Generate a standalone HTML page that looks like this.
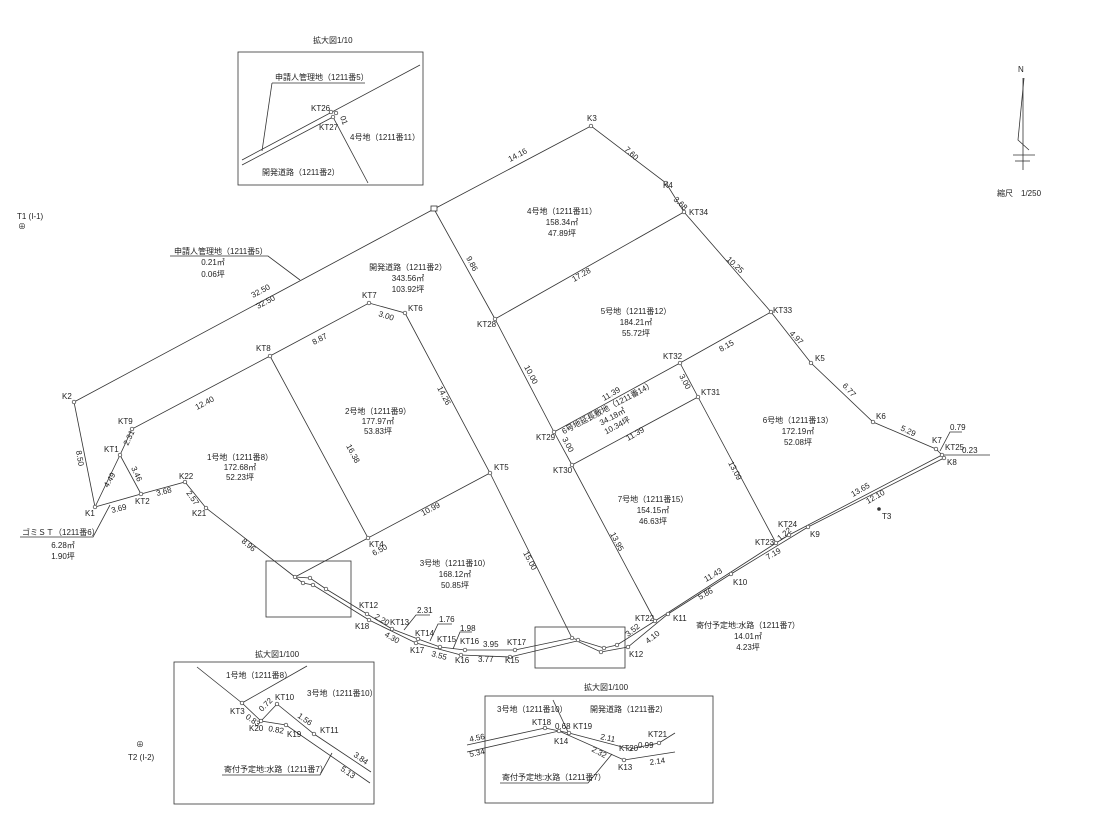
<!DOCTYPE html>
<html><head><meta charset="utf-8"><style>
html,body{margin:0;padding:0;background:#fff;}
svg{display:block;font-family:"Liberation Sans","Noto Sans CJK JP",sans-serif;}
text{font-size:8px;fill:#222;}
.c{text-anchor:middle;}
</style></head><body>
<svg width="1108" height="826" viewBox="0 0 1108 826" xmlns="http://www.w3.org/2000/svg">
<g stroke="#333" stroke-width="0.8" fill="none">
<!-- outer boundary -->
<polyline points="74,402 434,209 591,126 666,183 684,212 771,312 811,363 873,422 936,449 942,455"/>
<polyline points="74,402 95,507 120,455 132,429 270,356 369,303 405,313 490,473 572,638"/>
<line x1="120" y1="455" x2="141" y2="494"/>
<polyline points="95,507 141,494 185,482 206,508 295,577"/>
<polyline points="270,356 368,538 490,473"/>
<line x1="368" y1="538" x2="295" y2="577"/>
<polyline points="434,209 495,319 554,432 572,465 655,621"/>
<line x1="495" y1="319" x2="684" y2="212"/>
<polyline points="771,312 680,363 554,432"/>
<polyline points="680,363 698,397 776,543"/>
<line x1="698" y1="397" x2="572" y2="465"/>
<!-- channel -->
<polyline points="295,577 310,578 326,589 367,614 392,629 418,639 440,647 465,650 515,650 572,638 578,640 604,648 617,645 655,621 776,543 789,535 942,455"/>
<polyline points="295,577 303,583 313,585 369,620 416,643 461,655 510,657 577,641 601,652 628,647 668,614 731,574 808,527 944,458"/>
<!-- leaders -->
<polyline points="170,256 268,256 300,280"/>
<polyline points="20,537 93,537 110,505"/>
<polyline points="940,451 950,432 962,432"/>
<line x1="944" y1="455" x2="990" y2="455"/>
<polyline points="430,615 416,615 404,630"/>
<polyline points="452,624 438,624 430,641"/>
<polyline points="472,632 460,632 453,649"/>
<!-- inset boxes -->
<rect x="238" y="52" width="185" height="133"/>
<rect x="266" y="561" width="85" height="56"/>
<rect x="535" y="627" width="90" height="41"/>
<rect x="174" y="662" width="200" height="142"/>
<rect x="485" y="696" width="228" height="107"/>
<!-- top inset -->
<line x1="242" y1="160" x2="420" y2="65"/>
<line x1="242" y1="165" x2="333" y2="117"/>
<line x1="333" y1="117" x2="368" y2="183"/>
<polyline points="272,83 365,83"/>
<line x1="272" y1="83" x2="262" y2="151"/>
<!-- bottom-left inset -->
<polyline points="197,667 242,703 261,721 286,725 370,783"/>
<line x1="242" y1="703" x2="307" y2="666"/>
<polyline points="261,721 277,704 314,734 371,772"/>
<polyline points="222,775 320,775 332,753"/>
<!-- bottom-right inset -->
<polyline points="467,745 545,728 569,733 630,749 659,743 675,733"/>
<polyline points="467,752 559,731 624,760 675,752"/>
<line x1="553" y1="700" x2="568" y2="732"/>
<polyline points="500,783 588,783 612,754"/>
<!-- north -->
<line x1="1023" y1="78" x2="1023" y2="170"/>
<polyline points="1024,78 1018,140 1029,150"/>
<line x1="1013" y1="155" x2="1035" y2="155"/>
<line x1="1015" y1="161" x2="1030" y2="161"/>
</g>
<rect x="431" y="206" width="6" height="5" fill="#fff" stroke="#333" stroke-width="0.8"/>
<g fill="#fff" stroke="#333" stroke-width="0.7">
<circle cx="591" cy="126" r="1.8"/><circle cx="666" cy="183" r="1.8"/><circle cx="684" cy="212" r="1.8"/><circle cx="771" cy="312" r="1.8"/><circle cx="811" cy="363" r="1.8"/><circle cx="873" cy="422" r="1.8"/><circle cx="936" cy="449" r="1.8"/><circle cx="942" cy="455" r="1.8"/><circle cx="944" cy="458" r="1.8"/>
<circle cx="74" cy="402" r="1.8"/><circle cx="95" cy="507" r="1.8"/><circle cx="120" cy="455" r="1.8"/><circle cx="132" cy="429" r="1.8"/><circle cx="141" cy="494" r="1.8"/><circle cx="185" cy="482" r="1.8"/><circle cx="206" cy="508" r="1.8"/><circle cx="270" cy="356" r="1.8"/><circle cx="369" cy="303" r="1.8"/><circle cx="405" cy="313" r="1.8"/><circle cx="490" cy="473" r="1.8"/><circle cx="368" cy="538" r="1.8"/>
<circle cx="495" cy="319" r="1.8"/><circle cx="554" cy="432" r="1.8"/><circle cx="572" cy="465" r="1.8"/><circle cx="680" cy="363" r="1.8"/><circle cx="698" cy="397" r="1.8"/><circle cx="776" cy="543" r="1.8"/><circle cx="789" cy="535" r="1.8"/><circle cx="808" cy="527" r="1.8"/><circle cx="731" cy="574" r="1.8"/><circle cx="668" cy="614" r="1.8"/><circle cx="655" cy="621" r="1.8"/><circle cx="628" cy="647" r="1.8"/>
<circle cx="295" cy="577" r="1.8"/><circle cx="303" cy="583" r="1.8"/><circle cx="310" cy="578" r="1.8"/><circle cx="313" cy="585" r="1.8"/><circle cx="326" cy="589" r="1.8"/><circle cx="367" cy="614" r="1.8"/><circle cx="369" cy="620" r="1.8"/><circle cx="392" cy="629" r="1.8"/><circle cx="418" cy="639" r="1.8"/><circle cx="416" cy="643" r="1.8"/><circle cx="440" cy="647" r="1.8"/><circle cx="461" cy="655" r="1.8"/><circle cx="465" cy="650" r="1.8"/><circle cx="515" cy="650" r="1.8"/><circle cx="510" cy="657" r="1.8"/><circle cx="572" cy="638" r="1.8"/><circle cx="578" cy="640" r="1.8"/><circle cx="604" cy="648" r="1.8"/><circle cx="601" cy="652" r="1.8"/><circle cx="617" cy="645" r="1.8"/>
<circle cx="331" cy="112" r="1.8"/><circle cx="336" cy="113" r="1.8"/><circle cx="333" cy="117" r="1.8"/>
<circle cx="242" cy="703" r="1.8"/><circle cx="261" cy="721" r="1.8"/><circle cx="286" cy="725" r="1.8"/><circle cx="277" cy="704" r="1.8"/><circle cx="314" cy="734" r="1.8"/>
<circle cx="545" cy="728" r="1.8"/><circle cx="559" cy="731" r="1.8"/><circle cx="569" cy="733" r="1.8"/><circle cx="630" cy="749" r="1.8"/><circle cx="659" cy="743" r="1.8"/><circle cx="624" cy="760" r="1.8"/>
</g>
<circle cx="879" cy="509" r="1.8" fill="#333"/>
<text x="17" y="219">T1 (I-1)</text><text x="18" y="229" font-size="7">⊕</text>
<text x="128" y="760">T2 (I-2)</text><text x="136" y="747" font-size="7">⊕</text>
<text x="882" y="519">T3</text>
<text x="1018" y="72" font-size="11">N</text>
<text x="997" y="196" font-size="10">縮尺　1/250</text>
<!-- node labels -->
<text x="587" y="121">K3</text><text x="663" y="188">K4</text><text x="689" y="215">KT34</text><text x="773" y="313">KT33</text><text x="815" y="361">K5</text><text x="876" y="419">K6</text><text x="932" y="443">K7</text><text x="945" y="450">KT25</text><text x="947" y="465">K8</text>
<text x="810" y="537">K9</text><text x="733" y="585">K10</text><text x="673" y="621">K11</text><text x="635" y="621">KT22</text><text x="629" y="657">K12</text><text x="755" y="545">KT23</text><text x="778" y="527">KT24</text>
<text x="663" y="359">KT32</text><text x="701" y="395">KT31</text><text x="536" y="440">KT29</text><text x="553" y="473">KT30</text><text x="477" y="327">KT28</text><text x="494" y="470">KT5</text><text x="369" y="547">KT4</text><text x="408" y="311">KT6</text><text x="362" y="298">KT7</text><text x="256" y="351">KT8</text><text x="62" y="399">K2</text><text x="118" y="424">KT9</text><text x="104" y="452">KT1</text><text x="85" y="516">K1</text><text x="135" y="504">KT2</text><text x="179" y="479">K22</text><text x="192" y="516">K21</text>
<text x="359" y="608">KT12</text><text x="355" y="629">K18</text><text x="390" y="625">KT13</text><text x="415" y="636">KT14</text><text x="410" y="653">K17</text><text x="437" y="642">KT15</text><text x="455" y="663">K16</text><text x="460" y="644">KT16</text><text x="507" y="645">KT17</text><text x="505" y="663">K15</text>
<!-- dimensions -->
<text x="253" y="298" transform="rotate(-28 253 298)">32.50</text><text x="258" y="309" transform="rotate(-28 258 309)">32.50</text>
<text x="510" y="162" transform="rotate(-28 510 162)">14.16</text>
<text x="624" y="150" transform="rotate(43 624 150)">7.60</text>
<text x="673" y="200" transform="rotate(43 673 200)">3.68</text>
<text x="726" y="260" transform="rotate(43 726 260)">10.25</text>
<text x="789" y="334" transform="rotate(45 789 334)">4.97</text>
<text x="842" y="386" transform="rotate(48 842 386)">6.77</text>
<text x="900" y="430" transform="rotate(25 900 430)">5.29</text>
<text x="950" y="430">0.79</text><text x="962" y="453">0.23</text>
<text x="853" y="497" transform="rotate(-30 853 497)">13.65</text><text x="868" y="504" transform="rotate(-30 868 504)">12.10</text>
<text x="768" y="560" transform="rotate(-30 768 560)">7.19</text>
<text x="780" y="541" font-size="6" transform="rotate(-40 780 541)">1.22</text>
<text x="706" y="582" transform="rotate(-30 706 582)">11.43</text><text x="700" y="600" transform="rotate(-30 700 600)">5.86</text>
<text x="628" y="637" transform="rotate(-38 628 637)">3.52</text><text x="648" y="644" transform="rotate(-38 648 644)">4.10</text>
<text x="466" y="258" transform="rotate(62 466 258)">9.86</text>
<text x="574" y="282" transform="rotate(-30 574 282)">17.28</text>
<text x="524" y="367" transform="rotate(62 524 367)">10.00</text>
<text x="721" y="352" transform="rotate(-30 721 352)">8.15</text>
<text x="604" y="401" transform="rotate(-30 604 401)">11.39</text><text x="628" y="441" transform="rotate(-30 628 441)">11.39</text>
<text x="679" y="376" transform="rotate(62 679 376)">3.00</text><text x="562" y="439" transform="rotate(62 562 439)">3.00</text>
<text x="728" y="463" transform="rotate(62 728 463)">13.09</text>
<text x="610" y="534" transform="rotate(62 610 534)">13.95</text>
<text x="523" y="553" transform="rotate(62 523 553)">15.00</text>
<text x="437" y="388" transform="rotate(62 437 388)">14.26</text>
<text x="346" y="446" transform="rotate(62 346 446)">16.38</text>
<text x="378" y="316" transform="rotate(18 378 316)">3.00</text>
<text x="314" y="345" transform="rotate(-28 314 345)">8.87</text>
<text x="197" y="410" transform="rotate(-28 197 410)">12.40</text>
<text x="76" y="451" transform="rotate(80 76 451)">8.50</text>
<text x="128" y="446" transform="rotate(-65 128 446)">2.31</text>
<text x="108" y="488" transform="rotate(-60 108 488)">4.49</text>
<text x="131" y="468" transform="rotate(65 131 468)">3.46</text>
<text x="112" y="513" transform="rotate(-14 112 513)">3.69</text>
<text x="157" y="496" transform="rotate(-14 157 496)">3.68</text>
<text x="186" y="493" transform="rotate(55 186 493)">2.57</text>
<text x="241" y="542" transform="rotate(40 241 542)">8.96</text>
<text x="423" y="516" transform="rotate(-28 423 516)">10.99</text>
<text x="374" y="556" transform="rotate(-28 374 556)">6.50</text>
<text x="374" y="618" transform="rotate(30 374 618)">2.20</text>
<text x="384" y="636" transform="rotate(30 384 636)">4.30</text>
<text x="431" y="656" transform="rotate(15 431 656)">3.55</text>
<text x="483" y="647">3.95</text><text x="478" y="662">3.77</text>
<text x="417" y="613">2.31</text><text x="439" y="622">1.76</text><text x="460" y="631">1.98</text>
<!-- areas -->
<g class="c">
<text x="562" y="214" class="c">4号地（1211番11）</text><text x="562" y="225" class="c">158.34㎡</text><text x="562" y="236" class="c">47.89坪</text>
<text x="408" y="270" class="c">開発道路（1211番2）</text><text x="408" y="281" class="c">343.56㎡</text><text x="408" y="292" class="c">103.92坪</text>
<text x="636" y="314" class="c">5号地（1211番12）</text><text x="636" y="325" class="c">184.21㎡</text><text x="636" y="336" class="c">55.72坪</text>
<text x="798" y="423" class="c">6号地（1211番13）</text><text x="798" y="434" class="c">172.19㎡</text><text x="798" y="445" class="c">52.08坪</text>
<text x="653" y="502" class="c">7号地（1211番15）</text><text x="653" y="513" class="c">154.15㎡</text><text x="653" y="524" class="c">46.63坪</text>
<text x="378" y="414" class="c">2号地（1211番9）</text><text x="378" y="424" class="c">177.97㎡</text><text x="378" y="434" class="c">53.83坪</text>
<text x="240" y="460" class="c">1号地（1211番8）</text><text x="240" y="470" class="c">172.68㎡</text><text x="240" y="480" class="c">52.23坪</text>
<text x="455" y="566" class="c">3号地（1211番10）</text><text x="455" y="577" class="c">168.12㎡</text><text x="455" y="588" class="c">50.85坪</text>
<text x="748" y="628" class="c">寄付予定地:水路（1211番7）</text><text x="748" y="639" class="c">14.01㎡</text><text x="748" y="650" class="c">4.23坪</text>
<text x="213" y="265" class="c">0.21㎡</text><text x="213" y="277" class="c">0.06坪</text>
<text x="63" y="548" class="c">6.28㎡</text><text x="63" y="559" class="c">1.90坪</text>
<g transform="rotate(-28 610 412)"><text x="610" y="410" class="c">6号地延長敷地（1211番14）</text><text x="610" y="420" class="c">34.18㎡</text><text x="610" y="430" class="c">10.34坪</text></g>
</g>
<text x="174" y="254">申請人管理地（1211番5）</text>
<text x="22" y="535">ゴミＳＴ（1211番6）</text>
<!-- inset texts -->
<text x="313" y="43" font-size="6.5">拡大図1/10</text>
<text x="275" y="80">申請人管理地（1211番5）</text>
<text x="311" y="111">KT26</text><text x="319" y="130">KT27</text>
<text x="340" y="117" font-size="6" transform="rotate(70 340 117)">01</text>
<text x="350" y="140">4号地（1211番11）</text>
<text x="262" y="175">開発道路（1211番2）</text>
<text x="255" y="657" font-size="6.5">拡大図1/100</text>
<text x="226" y="678">1号地（1211番8）</text>
<text x="307" y="696">3号地（1211番10）</text>
<text x="275" y="700">KT10</text><text x="230" y="714">KT3</text><text x="249" y="731">K20</text><text x="287" y="737">K19</text><text x="320" y="733">KT11</text>
<text x="245" y="718" font-size="6.5" transform="rotate(35 245 718)">0.83</text>
<text x="262" y="712" font-size="6.5" transform="rotate(-45 262 712)">0.72</text>
<text x="268" y="731" font-size="6.5" transform="rotate(10 268 731)">0.82</text>
<text x="297" y="717" transform="rotate(35 297 717)">1.56</text>
<text x="353" y="756" transform="rotate(35 353 756)">3.84</text>
<text x="340" y="770" transform="rotate(35 340 770)">5.13</text>
<text x="224" y="772">寄付予定地:水路（1211番7）</text>
<text x="584" y="690" font-size="6.5">拡大図1/100</text>
<text x="497" y="712">3号地（1211番10）</text>
<text x="590" y="712">開発道路（1211番2）</text>
<text x="532" y="725">KT18</text><text x="573" y="729">KT19</text><text x="554" y="744">K14</text><text x="619" y="751">KT20</text><text x="648" y="737">KT21</text><text x="618" y="770">K13</text>
<text x="555" y="729" font-size="6.5">0.68</text>
<text x="600" y="739" transform="rotate(12 600 739)">2.11</text>
<text x="638" y="748" font-size="7">0.99</text>
<text x="591" y="751" transform="rotate(28 591 751)">2.32</text>
<text x="650" y="765" transform="rotate(-8 650 765)">2.14</text>
<text x="470" y="742" transform="rotate(-12 470 742)">4.56</text>
<text x="470" y="757" transform="rotate(-12 470 757)">5.34</text>
<text x="502" y="780">寄付予定地:水路（1211番7）</text>
</svg>
</body></html>
